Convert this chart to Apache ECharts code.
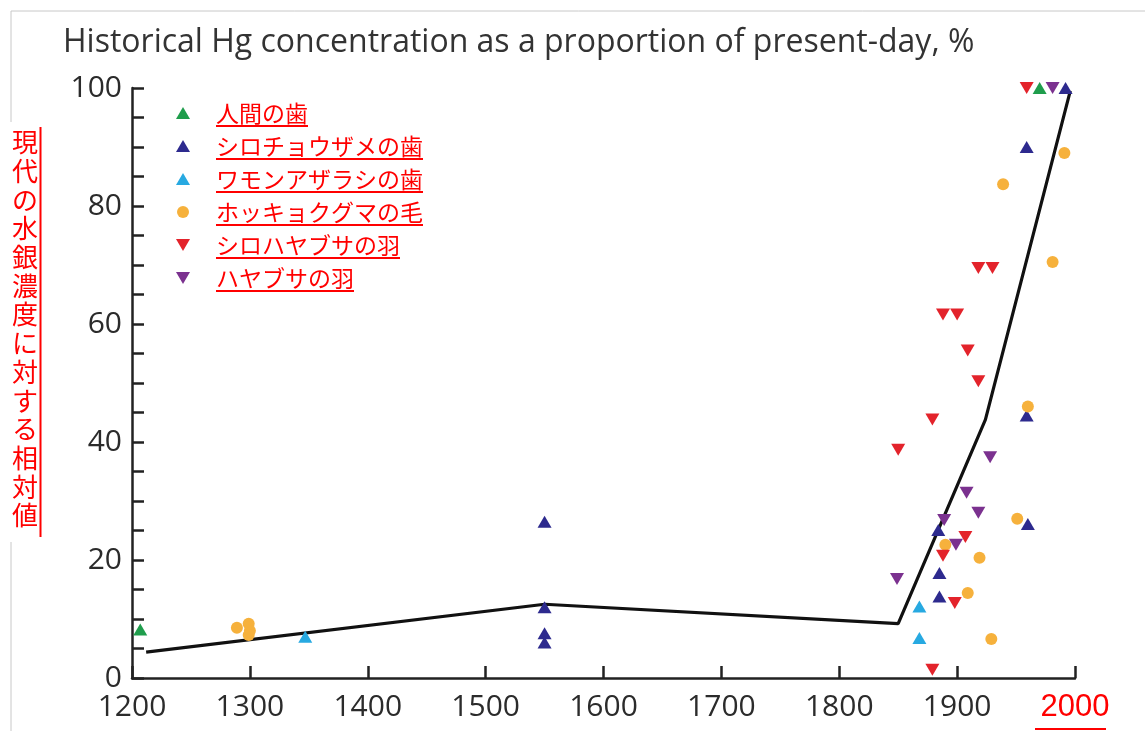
<!DOCTYPE html>
<html><head><meta charset="utf-8">
<script src="https://cdn.jsdelivr.net/npm/echarts@6/dist/echarts.min.js"></script>
<style>html,body{margin:0;padding:0;background:#fff}#c{width:1145px;height:731px}</style>
</head><body><div id="c"></div>
<script>
// ---- data ----
const chartTitle = 'Historical Hg concentration as a proportion of present-day, %';
const yAxisTitle = '現代の水銀濃度に対する相対値';
const xTickLabels = [1200, 1300, 1400, 1500, 1600, 1700, 1800, 1900, 2000];
const yTickLabels = [0, 20, 40, 60, 80, 100];
const seriesNames = ['人間の歯', 'シロチョウザメの歯', 'ワモンアザラシの歯', 'ホッキョクグマの毛', 'シロハヤブサの羽', 'ハヤブサの羽'];

const humanTeeth = [[1207, 8.2], [1970, 100]];
const belugaTeeth = [[1550, 26.5], [1550, 12], [1550, 7.6], [1550, 6.0], [1959, 90], [1992, 100], [1959, 44.5], [1960, 26.1], [1884, 25.1], [1885, 17.8], [1885, 13.8]];
const sealTeeth = [[1347, 7.0], [1868, 12.1], [1868, 6.8]];
const polarBearHair = [[1289, 8.5], [1299, 9.2], [1300, 8.0], [1299, 7.3], [1939, 83.7], [1991, 89.0], [1981, 70.5], [1960, 46], [1951, 27.0], [1890, 22.6], [1919, 20.4], [1909, 14.4], [1929, 6.6]];
const gyrfalconFeathers = [[1959, 100], [1918, 69.5], [1930, 69.5], [1888, 61.6], [1900, 61.6], [1909, 55.5], [1918, 50.3], [1879, 43.8], [1850, 38.7], [1907, 23.9], [1888, 20.7], [1898, 12.7], [1879, 1.4]];
const peregrineFeathers = [[1981, 100], [1928, 37.4], [1908, 31.4], [1918, 28.0], [1889, 26.8], [1899, 22.6], [1849, 16.8]];
const trendYears = [1212, 1550, 1850, 1924, 1996];
const trendValues = [4.4, 12.5, 9.2, 43.8, 99.5];

// ---- styles ----
const colors = ['#1f9d4c', '#2d2a8e', '#27a9e1', '#f6b13c', '#e3232b', '#7b318f'];
const symbols = ['triangle', 'triangle', 'triangle', 'circle', 'triangle', 'triangle'];
const rotations = [0, 0, 0, 0, 180, 180];
const seriesData = [humanTeeth, belugaTeeth, sealTeeth, polarBearHair, gyrfalconFeathers, peregrineFeathers];
const downTriangle = 'path://M0,0L14,0L7,12Z';

const chart = echarts.init(document.getElementById('c'));

const scatterSeries = seriesNames.map((name, i) => ({
  name: name,
  type: 'scatter',
  data: seriesData[i],
  symbol: symbols[i],
  symbolRotate: rotations[i],
  symbolSize: symbols[i] === 'circle' ? 12 : [14, 12],
  itemStyle: { color: colors[i], opacity: 1 },
  z: 3
}));

const legendFont = '"Noto Sans CJK JP"';
const legendSize = 23;
const legendLeft = 176, legendTop = 101, rowStep = 33, textStart = 216;
function measure(t, font) {
  const cv = document.createElement('canvas').getContext('2d');
  cv.font = font;
  return cv.measureText(t).width;
}
const underlines = seriesNames.map((n, i) => {
  const w = measure(n, legendSize + 'px ' + legendFont);
  const y = legendTop + 12 + rowStep * i + 13;
  return { type: 'line', shape: { x1: textStart, y1: y, x2: textStart + w, y2: y }, style: { stroke: '#ff0000', lineWidth: 2 }, z: 10 };
});

const legendData = seriesNames.map((n, i) => (rotations[i] === 180 ? { name: n, icon: downTriangle } : { name: n, icon: symbols[i] }));

// vertical y title
const yTitleChars = yAxisTitle.split('').join('\n');

const option = {
  backgroundColor: '#fff',
  animation: false,
  title: {
    text: chartTitle,
    left: 58, top: 22,
    textStyle: { fontFamily: '"Open Sans"', fontSize: 32, fontWeight: 'normal', color: '#333' }
  },
  grid: { left: 132, right: 70, top: 88, bottom: 53 },
  legend: {
    data: legendData,
    orient: 'vertical',
    left: legendLeft, top: legendTop, padding: 0,
    itemWidth: 14, itemHeight: 12, itemGap: 9,
    symbolRotate: 0,
    textStyle: { fontFamily: legendFont, fontSize: legendSize, color: '#ff0000', lineHeight: 24, padding: [0, 0, 0, 21] }
  },
  xAxis: {
    type: 'value', min: xTickLabels[0], max: xTickLabels[xTickLabels.length - 1], interval: 100,
    axisLine: { lineStyle: { color: '#222', width: 2.5 } },
    axisTick: { inside: true, length: 12, lineStyle: { color: '#222', width: 2.5 } },
    splitLine: { show: false },
    axisLabel: {
      margin: 14,
      fontFamily: '"Open Sans"', fontSize: 30, color: '#2b2b2b',
      formatter: v => (v === 2000 ? '{r|' + v + '}' : (xTickLabels.indexOf(v) >= 0 ? String(v) : '')),
      rich: { r: { fontFamily: '"Liberation Sans"', fontSize: 31, color: '#ff0000' } }
    }
  },
  yAxis: {
    type: 'value', min: 0, max: 100, interval: 5,
    axisLine: { show: true, lineStyle: { color: '#222', width: 2.5 } },
    axisTick: { show: true, inside: true, length: 12, lineStyle: { color: '#222', width: 2.5 } },
    splitLine: { show: false },
    axisLabel: {
      margin: 10,
      fontFamily: '"Open Sans"', fontSize: 30, color: '#2b2b2b',
      formatter: v => (yTickLabels.indexOf(v) >= 0 ? String(v) : '')
    }
  },
  graphic: [
    { type: 'rect', shape: { x: 11, y: 11, width: 1200, height: 800 }, style: { fill: 'none', stroke: '#c8c8c8', lineWidth: 1 }, z: 0 },
    { type: 'rect', shape: { x: 0, y: 122, width: 44, height: 420 }, style: { fill: '#fff' }, z: 1 },
    { type: 'text', x: 25, y: 128, style: { text: yTitleChars, fill: '#ff0000', font: '26px "Noto Sans CJK JP"', lineHeight: 28.7, align: 'center', verticalAlign: 'top' }, z: 10 },
    { type: 'line', shape: { x1: 40.5, y1: 127, x2: 40.5, y2: 537 }, style: { stroke: '#ff0000', lineWidth: 2 }, z: 10 },
    { type: 'line', shape: { x1: 1035, y1: 729, x2: 1106, y2: 729 }, style: { stroke: '#ff0000', lineWidth: 2 }, z: 10 }
  ].concat(underlines),
  series: [
    {
      name: 'trend', type: 'line',
      data: trendYears.map((y, i) => [y, trendValues[i]]),
      symbol: 'none',
      lineStyle: { color: '#111', width: 3.2 },
      z: 2
    }
  ].concat(scatterSeries)
};
chart.setOption(option);
</script>
</body></html>
